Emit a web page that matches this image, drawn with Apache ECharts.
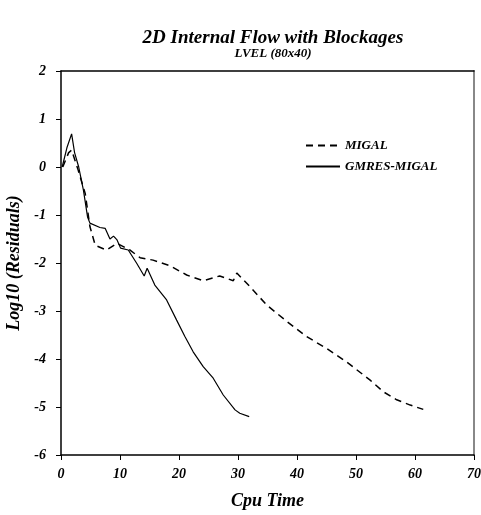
<!DOCTYPE html>
<html>
<head>
<meta charset="utf-8">
<script src="https://cdn.jsdelivr.net/npm/echarts@6/dist/echarts.min.js"></script>
<style>
  html, body { margin: 0; padding: 0; background: #fff; }
  #main { width: 481px; height: 515px; }
</style>
</head>
<body>
<div id="main"></div>
<script>
// MIGAL (dashed)
var migalX = [0.3, 1.3, 1.8, 2.9, 4.1, 4.9, 5.8, 7.7, 9.5, 11.7, 13.4, 15.6, 18.5, 21.3, 24.1, 26.9, 29.2, 29.8, 32, 34.9, 38.3, 41.6, 45, 48.4, 52.4, 54.6, 56.9, 59.2, 61.4];
var migalY = [0, 0.3, 0.35, -0.06, -0.55, -1.24, -1.63, -1.73, -1.59, -1.73, -1.89, -1.94, -2.06, -2.25, -2.37, -2.27, -2.37, -2.21, -2.49, -2.88, -3.22, -3.53, -3.78, -4.06, -4.44, -4.68, -4.85, -4.96, -5.05];
// GMRES-MIGAL (solid)
var gmresX = [0.2, 1.0, 1.8, 2.3, 3.0, 3.8, 4.5, 4.9, 6.6, 7.5, 8.3, 8.9, 9.5, 10.1, 11.4, 12.8, 14.1, 14.6, 15.9, 17.9, 19.6, 21.0, 22.4, 24.1, 25.8, 27.5, 29.5, 30.3, 31.9];
var gmresY = [0, 0.4, 0.69, 0.3, 0.0, -0.48, -1.04, -1.17, -1.26, -1.28, -1.5, -1.44, -1.52, -1.69, -1.73, -2.0, -2.27, -2.11, -2.46, -2.77, -3.19, -3.53, -3.85, -4.16, -4.4, -4.75, -5.06, -5.13, -5.2];

var seriesNames = ['MIGAL', 'GMRES-MIGAL'];

function pairs(xs, ys) {
  return xs.map(function (x, i) { return [x, ys[i]]; });
}

var fnt = '"Liberation Serif", "DejaVu Serif", serif';
var lbl = { fontFamily: fnt, fontStyle: 'italic', fontWeight: 'bold', color: '#000', fontSize: 14 };
var nameStyle = { fontFamily: fnt, fontStyle: 'italic', fontWeight: 'bold', fontSize: 18, color: '#000' };

var chart = echarts.init(document.getElementById('main'), null, { renderer: 'canvas' });
chart.setOption({
  animation: false,
  backgroundColor: '#fff',
  title: [{
    text: '2D Internal Flow with Blockages',
    left: 268, top: 24, textAlign: 'center',
    textStyle: { fontFamily: fnt, fontStyle: 'italic', fontWeight: 'bold', fontSize: 19, color: '#000' }
  }, {
    text: 'LVEL (80x40)',
    left: 268, top: 42, textAlign: 'center',
    textStyle: { fontFamily: fnt, fontStyle: 'italic', fontWeight: 'bold', fontSize: 13, color: '#000' }
  }],
  legend: {
    orient: 'vertical',
    left: 300, top: 134,
    itemWidth: 34, itemHeight: 10, itemGap: 8,
    data: seriesNames,
    itemStyle: { opacity: 0 },
    textStyle: { fontFamily: fnt, fontStyle: 'italic', fontWeight: 'bold', fontSize: 13, color: '#000' }
  },
  grid: { left: 61, top: 71, right: 7, bottom: 60, containLabel: false, outerBoundsMode: 'none' },
  xAxis: [{
    type: 'value', min: 0, max: 70, interval: 10,
    name: 'Cpu Time', nameLocation: 'middle', nameGap: 37,
    nameTextStyle: nameStyle,
    axisLine: { show: true, onZero: false, lineStyle: { color: '#000', width: 1.5 } },
    axisTick: { show: true, inside: false, length: 5, lineStyle: { color: '#000' } },
    axisLabel: Object.assign({ margin: 12 }, lbl),
    splitLine: { show: false }
  }, {
    type: 'value', min: 0, max: 70, position: 'top',
    axisLine: { show: true, onZero: false, lineStyle: { color: '#000', width: 1.5 } },
    axisTick: { show: false }, axisLabel: { show: false }, splitLine: { show: false }
  }],
  yAxis: [{
    type: 'value', min: -6, max: 2, interval: 1,
    name: 'Log10 (Residuals)', nameLocation: 'middle', nameGap: 31, nameRotate: 90,
    nameTextStyle: nameStyle,
    axisLine: { show: true, onZero: false, lineStyle: { color: '#000', width: 1.5 } },
    axisTick: { show: true, inside: false, length: 5, lineStyle: { color: '#000' } },
    axisLabel: Object.assign({ margin: 15 }, lbl),
    splitLine: { show: false }
  }, {
    type: 'value', min: -6, max: 2, position: 'right',
    axisLine: { show: true, onZero: false, lineStyle: { color: '#888', width: 2 } },
    axisTick: { show: false }, axisLabel: { show: false }, splitLine: { show: false }
  }],
  series: [{
    name: seriesNames[0], type: 'line', symbol: 'none', smooth: false,
    data: pairs(migalX, migalY),
    itemStyle: { color: '#000' },
    lineStyle: { color: '#000', width: 1.5, type: [7, 5] }
  }, {
    name: seriesNames[1], type: 'line', symbol: 'none', smooth: false,
    data: pairs(gmresX, gmresY),
    itemStyle: { color: '#000' },
    lineStyle: { color: '#000', width: 1.2 }
  }]
});
</script>
</body>
</html>
